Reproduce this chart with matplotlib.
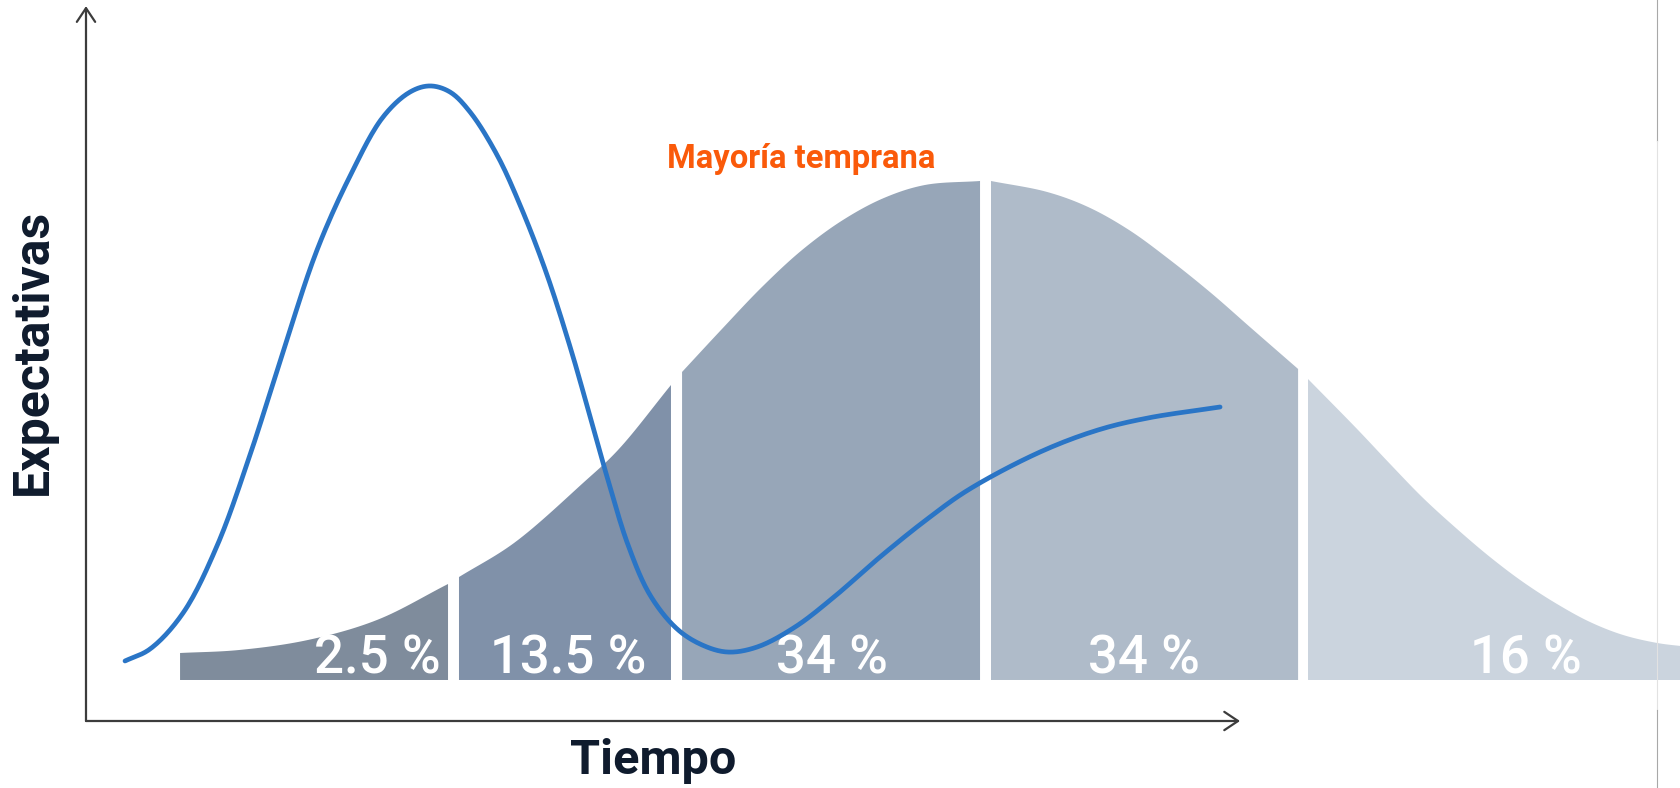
import numpy as np
import matplotlib.pyplot as plt

# Curva de expectativas (tiempo 0-100, expectativas 0-100)
exp_t = [3.38, 5.55, 8.41, 11.35, 14.21, 17.07, 20.02, 22.88, 25.74, 28.08,
         29.81, 31.54, 33.28, 35.62, 37.61, 39.86, 42.03, 43.76, 45.23,
         46.97, 48.87, 51.13, 53.21, 55.55, 58.15, 61.44, 64.82, 68.80,
         72.79, 76.43, 82.67, 87.69, 92.03, 98.27]
exp_v = [8.43, 10.11, 15.17, 24.58, 37.36, 51.83, 66.15, 76.54, 84.83, 88.34,
         89.19, 88.34, 85.53, 79.49, 72.47, 63.06, 52.11, 42.28, 33.85,
         24.72, 17.70, 13.06, 10.81, 9.69, 10.39, 13.20, 17.42, 23.03,
         28.23, 32.44, 37.78, 40.87, 42.56, 44.10]

# Curva de adopción (campana) y sus cinco grupos
bell_t = [8.15, 13.26, 19.24, 25.22, 31.37,
          32.32, 37.09, 43.07, 46.10, 50.69,
          51.65, 55.03, 58.58, 62.05, 65.60, 69.15, 72.70, 77.47,
          78.42, 83.28, 86.83, 90.38, 93.93, 97.49, 100.95, 105.03,
          105.89, 110.14, 113.00, 115.86, 118.80, 121.66, 124.52, 127.47,
          130.33, 133.19, 136.14, 138.21, 140.0]
bell_v = [9.55, 9.97, 11.38, 14.19, 19.24,
          20.22, 25.00, 33.43, 38.06, 47.19,
          49.02, 54.92, 60.96, 66.15, 70.37, 73.46, 75.28, 75.84,
          75.84, 74.30, 72.19, 68.96, 64.75, 60.11, 55.20, 49.44,
          48.03, 41.01, 36.10, 31.32, 26.97, 23.03, 19.52, 16.43,
          13.90, 12.08, 10.96, 10.53, 10.25]
bell_base = 5.76
group_edges = [(8.15, 31.37), (32.32, 50.69), (51.65, 77.47),
               (78.42, 105.03), (105.89, 140.0)]
group_labels = ['2.5 %', '13.5 %', '34 %', '34 %', '16 %']
group_colors = ['#7f8c9c', '#8091a9', '#97a6b8', '#afbbc9', '#cbd4de']


def smooth_path(x, y, n=16, sx=11.54, sy=7.12):
    """Trazo suave (Catmull-Rom centrípeto) que pasa por los puntos dados."""
    p = np.column_stack([np.asarray(x) * sx, np.asarray(y) * sy])
    p = np.vstack([2 * p[0] - p[1], p, 2 * p[-1] - p[-2]])
    out = [p[1]]
    for i in range(1, len(p) - 2):
        p0, p1, p2, p3 = p[i - 1:i + 3]
        t0 = 0.0
        t1 = t0 + np.linalg.norm(p1 - p0) ** 0.5
        t2 = t1 + np.linalg.norm(p2 - p1) ** 0.5
        t3 = t2 + np.linalg.norm(p3 - p2) ** 0.5
        t = np.linspace(t1, t2, n)[1:, None]
        a1 = (t1 - t) / (t1 - t0) * p0 + (t - t0) / (t1 - t0) * p1
        a2 = (t2 - t) / (t2 - t1) * p1 + (t - t1) / (t2 - t1) * p2
        a3 = (t3 - t) / (t3 - t2) * p2 + (t - t2) / (t3 - t2) * p3
        b1 = (t2 - t) / (t2 - t0) * a1 + (t - t0) / (t2 - t0) * a2
        b2 = (t3 - t) / (t3 - t1) * a2 + (t - t1) / (t3 - t1) * a3
        c = (t2 - t) / (t2 - t1) * b1 + (t - t1) / (t2 - t1) * b2
        out.extend(c)
    out = np.array(out)
    return out[:, 0] / sx, out[:, 1] / sy


fig = plt.figure(figsize=(16.81, 7.88), dpi=100)
ax = fig.add_axes([0, 0, 1, 1])
ax.set_xlim(-7.452, 138.21)
ax.set_ylim(-9.41, 101.26)
ax.axis('off')

bt = np.array(bell_t)
bv = np.array(bell_v)
for (lo, hi), col in zip(group_edges, group_colors):
    m = (bt >= lo - 1e-6) & (bt <= hi + 1e-6)
    sx_, sy_ = smooth_path(bt[m], bv[m])
    ax.fill(np.r_[sx_, hi, lo], np.r_[sy_, bell_base, bell_base],
            color=col, lw=0, zorder=1)

# porcentajes de cada grupo
label_t = [25.2, 41.8, 64.6, 91.7, 124.8]
for t, txt in zip(label_t, group_labels):
    ax.text(t, 6.74, txt, color='white', fontsize=38, family='Roboto',
            fontweight='medium', ha='center', va='baseline', zorder=2)

ct, cv = smooth_path(exp_t, exp_v)
ax.plot(ct, cv, color='#2a75c6', lw=3.4, solid_capstyle='round',
        solid_joinstyle='round', zorder=3)

# ejes con flecha
axis_col = '#3c3c3c'
for tip in [(100, 0), (0, 100.4)]:
    ax.annotate('', xy=tip, xytext=(0, 0),
                arrowprops=dict(arrowstyle='->,head_length=0.45,head_width=0.3',
                                color=axis_col, lw=1.6, mutation_scale=22,
                                shrinkA=0, shrinkB=0))

navy = '#0f1b2d'
ax.text(49.15, -7.44, 'Tiempo', color=navy, fontsize=35, fontweight='bold',
        family='Roboto', ha='center', va='baseline')
ax.text(-4.55, 51.8, 'Expectativas', color=navy, fontsize=36,
        fontweight='bold', family='Roboto', rotation=90,
        ha='center', va='center')
ax.text(62.0, 77.67, 'Mayoría temprana', color='#fa5a0a', fontsize=23.6,
        fontweight='bold', family='Roboto', ha='center', va='baseline')

# línea fina vertical a la derecha
ax.axvline(136.14, 0.821, 1.0, color='#a8a8a8', lw=0.8, zorder=4)
ax.axvline(136.14, 0.099, 0.821, color='#e2e2e2', lw=0.8, zorder=4)
ax.axvline(136.14, 0.0, 0.099, color='#a8a8a8', lw=0.8, zorder=4)

fig.savefig('out.png', dpi=100)
